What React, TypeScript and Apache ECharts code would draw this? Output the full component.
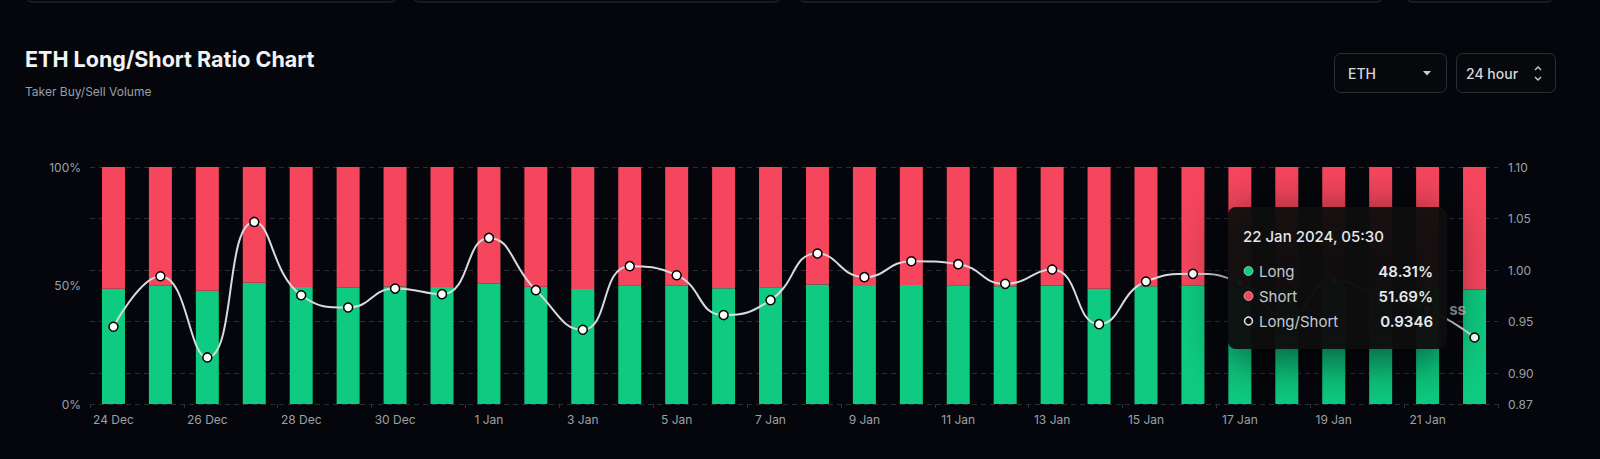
import React, { useEffect, useRef } from "react";
import * as echarts from "echarts";

const dates = [
  "24 Dec", "25 Dec", "26 Dec", "27 Dec", "28 Dec", "29 Dec", "30 Dec", "31 Dec",
  "1 Jan", "2 Jan", "3 Jan", "4 Jan", "5 Jan", "6 Jan", "7 Jan", "8 Jan",
  "9 Jan", "10 Jan", "11 Jan", "12 Jan", "13 Jan", "14 Jan", "15 Jan", "16 Jan",
  "17 Jan", "18 Jan", "19 Jan", "20 Jan", "21 Jan", "22 Jan",
];

const longPct = [
  48.58, 49.85, 47.79, 51.14, 49.38, 49.08, 49.55, 49.41,
  50.77, 49.51, 48.51, 50.09, 49.87, 48.88, 49.26, 50.4,
  49.83, 50.21, 50.14, 49.66, 50.01, 48.65, 49.72, 49.91,
  49.69, 48.85, 49.74, 49.37, 49.03, 48.31,
];

const shortPct = [
  51.42, 50.15, 52.21, 48.86, 50.62, 50.92, 50.45, 50.59,
  49.23, 50.49, 51.49, 49.91, 50.13, 51.12, 50.74, 49.6,
  50.17, 49.79, 49.86, 50.34, 49.99, 51.35, 50.28, 50.09,
  50.31, 51.15, 50.26, 50.63, 50.97, 51.69,
];

const ratio = [
  0.9449, 0.994, 0.9152, 1.0467, 0.9756, 0.9637, 0.982, 0.9766,
  1.0312, 0.9805, 0.942, 1.0038, 0.995, 0.9563, 0.9708, 1.016,
  0.9931, 1.0086, 1.0057, 0.9866, 1.0005, 0.9475, 0.9889, 0.9963,
  0.9876, 0.955, 0.9895, 0.975, 0.962, 0.9346,
];

const leftTicks = [0, 50, 100];
const rightTicks = [0.87, 0.9, 0.95, 1.0, 1.05, 1.1];

const tipTitle = "22 Jan 2024, 05:30";
const tipRows = [
  { name: "Long", value: "48.31%" },
  { name: "Short", value: "51.69%" },
  { name: "Long/Short", value: "0.9346" },
];

const GREEN = "#0ECB81";
const RED = "#F6465D";
const BG = "#04060b";
const FONT = "Inter, 'Noto Sans', sans-serif";

export default function App() {
  const ref = useRef<HTMLDivElement>(null);
  const tipRef = useRef<HTMLDivElement>(null);

  useEffect(() => {
    document.body.style.margin = "0";
    document.body.style.background = BG;
    const chart = echarts.init(ref.current!, undefined, { renderer: "svg" });
    const tipChart = echarts.init(tipRef.current!, undefined, { renderer: "svg" });

    const cards = [
      [26, 371],
      [413, 368],
      [799, 584],
      [1406, 147],
    ];

    const tipX = 1228;
    const tipY = 207;
    const rowY = [271, 296, 321];

    const graphic: any[] = [
      ...cards.map(([x, w]) => ({
        type: "rect",
        shape: { x, y: -40, width: w, height: 42, r: 6 },
        style: { fill: "#07090e", stroke: "#2b2e36", lineWidth: 1 },
        z: 1,
      })),
      {
        type: "text",
        x: 25,
        y: 70,
        style: {
          text: "ETH Long/Short Ratio Chart",
          fill: "#f2f3f5",
          font: `700 21.5px ${FONT}`,
          textVerticalAlign: "bottom",
          verticalAlign: "bottom",
        },
      },
      {
        type: "text",
        x: 25,
        y: 91,
        style: {
          text: "Taker Buy/Sell Volume",
          fill: "#9a9ea8",
          font: `400 12px ${FONT}`,
          textVerticalAlign: "middle",
          verticalAlign: "middle",
        },
      },
      {
        type: "rect",
        shape: { x: 1334.5, y: 53.5, width: 112, height: 39, r: 6 },
        style: { fill: "#06080c", stroke: "#2b2e36", lineWidth: 1 },
      },
      {
        type: "text",
        x: 1348,
        y: 73,
        style: {
          text: "ETH",
          fill: "#d4d7de",
          font: `500 14px ${FONT}`,
          textVerticalAlign: "middle",
          verticalAlign: "middle",
        },
      },
      {
        type: "polygon",
        shape: { points: [[1423, 71], [1431, 71], [1427, 75.5]] },
        style: { fill: "#c8ccd4" },
      },
      {
        type: "rect",
        shape: { x: 1456.5, y: 53.5, width: 99, height: 39, r: 6 },
        style: { fill: "#06080c", stroke: "#2b2e36", lineWidth: 1 },
      },
      {
        type: "text",
        x: 1466,
        y: 73,
        style: {
          text: "24 hour",
          fill: "#d4d7de",
          font: `500 14px ${FONT}`,
          textVerticalAlign: "middle",
          verticalAlign: "middle",
        },
      },
      {
        type: "polyline",
        shape: { points: [[1535, 70], [1538, 67], [1541, 70]] },
        style: { stroke: "#c8ccd4", lineWidth: 1.4, fill: "none" },
      },
      {
        type: "polyline",
        shape: { points: [[1535, 77], [1538, 80], [1541, 77]] },
        style: { stroke: "#c8ccd4", lineWidth: 1.4, fill: "none" },
      },
      {
        type: "text",
        x: 1466,
        y: 309,
        z: 3,
        style: {
          text: "ss",
          fill: "rgba(200,203,210,0.8)",
          font: `700 15px ${FONT}`,
          textAlign: "right",
          align: "right",
          textVerticalAlign: "middle",
          verticalAlign: "middle",
        },
      },
    ];

    const tipGraphic: any[] = [
      {
        type: "rect",
        z: 1,
        shape: { x: tipX, y: tipY, width: 219, height: 142, r: 8 },
        style: {
          fill: "rgba(8,9,12,0.94)",
          shadowBlur: 50,
          shadowColor: "rgba(0,0,0,0.65)",
          shadowOffsetY: 10,
        },
      },
      {
        type: "text",
        z: 2,
        x: 1243,
        y: 236,
        style: {
          text: tipTitle,
          fill: "#e4e6ea",
          font: `500 15px ${FONT}`,
          textVerticalAlign: "middle",
          verticalAlign: "middle",
        },
      },
      {
        type: "circle",
        z: 2,
        shape: { cx: 1248.5, cy: rowY[0], r: 4.5 },
        style: { fill: GREEN, stroke: "rgba(255,255,255,0.5)", lineWidth: 1 },
      },
      {
        type: "circle",
        z: 2,
        shape: { cx: 1248.5, cy: rowY[1], r: 4.5 },
        style: { fill: RED, stroke: "rgba(255,255,255,0.5)", lineWidth: 1 },
      },
      {
        type: "circle",
        z: 2,
        shape: { cx: 1248.5, cy: rowY[2], r: 4 },
        style: { fill: "#0a0b0e", stroke: "#e4e6ea", lineWidth: 1.5 },
      },
      ...tipRows.map((r, i) => ({
        type: "text",
        z: 2,
        x: 1259,
        y: rowY[i],
        style: {
          text: r.name,
          fill: "#c6c9d0",
          font: `400 15px ${FONT}`,
          textVerticalAlign: "middle",
          verticalAlign: "middle",
        },
      })),
      ...tipRows.map((r, i) => ({
        type: "text",
        z: 2,
        x: 1433,
        y: rowY[i],
        style: {
          text: r.value,
          fill: "#e8eaee",
          font: `600 15px ${FONT}`,
          textAlign: "right",
          align: "right",
          textVerticalAlign: "middle",
          verticalAlign: "middle",
        },
      })),
    ];

    chart.setOption({
      animation: false,
      backgroundColor: BG,
      textStyle: { fontFamily: FONT },
      grid: { left: 90, right: 102, top: 167, bottom: 55, containLabel: false },
      xAxis: {
        type: "category",
        data: dates,
        boundaryGap: true,
        axisLine: { show: false },
        axisTick: {
          show: true,
          interval: 1,
          length: 4,
          lineStyle: { color: "#2e3138" },
        },
        axisLabel: {
          interval: 1,
          color: "#9ca0a8",
          fontSize: 12,
          margin: 9,
          fontFamily: FONT,
        },
        splitLine: { show: false },
      },
      yAxis: [
        {
          type: "value",
          position: "left",
          min: 0,
          max: 100,
          interval: 50,
          axisLine: { show: false },
          axisTick: { show: false },
          splitLine: { show: false },
          axisLabel: {
            color: "#9ca0a8",
            fontSize: 12,
            margin: 9,
            fontFamily: FONT,
            customValues: leftTicks,
            formatter: (v: number) => `${v}%`,
          },
        },
        {
          type: "value",
          position: "right",
          min: 0.87,
          max: 1.1,
          axisLine: { show: false },
          axisTick: { show: false, customValues: rightTicks },
          splitLine: {
            show: true,
            lineStyle: { color: "#2a2d33", type: [5, 4], width: 1 },
          },
          axisLabel: {
            color: "#9ca0a8",
            fontSize: 12,
            margin: 10,
            fontFamily: FONT,
            customValues: rightTicks,
            formatter: (v: number) => v.toFixed(2),
          },
        },
      ],
      series: [
        {
          name: "Long",
          type: "bar",
          stack: "ls",
          yAxisIndex: 0,
          barWidth: 23,
          data: longPct,
          itemStyle: { color: GREEN },
          z: 2,
        },
        {
          name: "Short",
          type: "bar",
          stack: "ls",
          yAxisIndex: 0,
          barWidth: 23,
          data: shortPct,
          itemStyle: { color: RED },
          z: 2,
        },
        {
          name: "Long/Short",
          type: "line",
          yAxisIndex: 1,
          data: ratio,
          smooth: 0.5,
          symbol: "circle",
          symbolSize: 9,
          showSymbol: true,
          lineStyle: { color: "#d9dadd", width: 2 },
          itemStyle: { color: "#ffffff", borderColor: "#000000", borderWidth: 1.5 },
          z: 5,
        },
      ],
      graphic,
    });

    tipChart.setOption({
      animation: false,
      backgroundColor: "transparent",
      graphic: tipGraphic,
    });

    return () => {
      chart.dispose();
      tipChart.dispose();
    };
  }, []);

  return (
    <div style={{ position: "fixed", left: 0, top: 0, width: 1600, height: 459, background: BG }}>
      <div ref={ref} style={{ position: "absolute", left: 0, top: 0, width: 1600, height: 459 }} />
      <div
        ref={tipRef}
        style={{
          position: "absolute",
          left: 0,
          top: 0,
          width: 1600,
          height: 459,
          pointerEvents: "none",
        }}
      />
    </div>
  );
}
